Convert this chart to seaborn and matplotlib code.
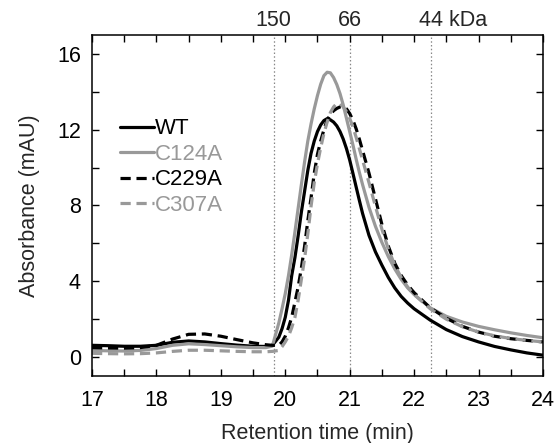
import numpy as np
import pandas as pd
import matplotlib
matplotlib.use("Agg")
import matplotlib.pyplot as plt
import matplotlib.transforms as mtransforms
from matplotlib.ticker import MultipleLocator
import seaborn as sns

# retention time (min)
time = [17.0, 17.25, 17.5, 17.75, 18.0, 18.25, 18.5, 18.75, 19.0, 19.25, 19.5, 19.7,
        19.8, 19.9, 19.95, 20.0, 20.05, 20.1, 20.15, 20.2, 20.25, 20.3, 20.35, 20.4,
        20.45, 20.5, 20.55, 20.6, 20.65, 20.7, 20.75, 20.8, 20.85, 20.9, 20.95, 21.0,
        21.05, 21.1, 21.15, 21.2, 21.3, 21.4, 21.5, 21.6, 21.7, 21.8, 21.9, 22.0,
        22.25, 22.5, 22.75, 23.0, 23.25, 23.5, 23.75, 24.0]

wt = [0.62, 0.6, 0.57, 0.57, 0.62, 0.78, 0.85, 0.8, 0.71, 0.63, 0.57, 0.56,
      0.62, 1.05, 1.5, 2.1, 3.0, 4.3, 5.25, 6.4, 7.65, 8.75, 9.85, 10.75,
      11.4, 11.9, 12.25, 12.48, 12.58, 12.52, 12.4, 12.2, 11.9, 11.5, 11.0, 10.4,
      9.7, 8.98, 8.27, 7.58, 6.42, 5.55, 4.85, 4.2, 3.65, 3.2, 2.85, 2.55,
      1.95, 1.45, 1.08, 0.8, 0.56, 0.38, 0.22, 0.1]

c124a = [0.35, 0.33, 0.32, 0.35, 0.45, 0.62, 0.7, 0.66, 0.6, 0.54, 0.5, 0.5,
         0.58, 1.8, 2.55, 3.35, 4.3, 5.4, 6.6, 7.85, 9.1, 10.3, 11.4, 12.3,
         13.1, 13.8, 14.4, 14.85, 15.03, 15.0, 14.75, 14.38, 13.9, 13.3, 12.6, 11.9,
         11.2, 10.45, 9.75, 9.1, 7.9, 6.9, 6.05, 5.3, 4.65, 4.1, 3.65, 3.3,
         2.6, 2.15, 1.85, 1.62, 1.44, 1.28, 1.14, 1.02]

c229a = [0.5, 0.48, 0.47, 0.5, 0.62, 0.95, 1.2, 1.22, 1.1, 0.92, 0.75, 0.65,
         0.62, 0.62, 0.8, 1.1, 1.55, 2.1, 2.9, 3.7, 4.7, 5.85, 7.2, 8.4,
         9.7, 10.7, 11.4, 12.0, 12.5, 12.8, 13.0, 13.12, 13.2, 13.2, 13.1, 12.85,
         12.5, 12.05, 11.5, 10.9, 9.7, 8.35, 7.0, 5.85, 4.95, 4.3, 3.8, 3.4,
         2.6, 2.05, 1.62, 1.32, 1.1, 0.97, 0.88, 0.8]

c307a = [0.2, 0.18, 0.17, 0.18, 0.22, 0.3, 0.36, 0.36, 0.33, 0.3, 0.28, 0.28,
         0.3, 0.35, 0.55, 0.8, 1.1, 1.55, 2.1, 3.0, 4.1, 5.2, 6.5, 7.95,
         9.2, 10.2, 11.05, 11.8, 12.4, 12.9, 13.2, 13.38, 13.38, 13.2, 12.95, 12.6,
         12.15, 11.6, 11.0, 10.4, 9.2, 7.95, 6.75, 5.7, 4.85, 4.2, 3.7, 3.3,
         2.55, 2.0, 1.6, 1.32, 1.12, 0.98, 0.88, 0.8]

# size standards (kDa) and their elution positions
marker_times = [19.82, 21.0, 22.27]
marker_labels = ["150", "66", "44 kDa"]

sns.set_style("ticks")
plt.rcParams["font.family"] = ["Liberation Sans", "DejaVu Sans"]

gray = "#999999"
series = [("WT", wt, "black", "-"),
          ("C124A", c124a, gray, "-"),
          ("C229A", c229a, "black", (0, (3.2, 1.8))),
          ("C307A", c307a, gray, (0, (3.2, 1.8)))]

fig = plt.figure(figsize=(5.56, 4.43), dpi=100)
ax = fig.add_axes([0.1655, 0.1512, 0.811, 0.77])

for xm in marker_times:
    ax.axvline(xm, color="#888888", lw=0.9, ls=(0, (1.2, 1.8)), zorder=0)

for name, vals, col, ls in series:
    sns.lineplot(x=time, y=vals, ax=ax, color=col, lw=2.3, label=name,
                 linestyle=ls, sort=False)

fs = 15.5
ax.set_xlim(17, 24)
ax.set_ylim(-1, 17)
ax.xaxis.set_major_locator(MultipleLocator(1))
ax.xaxis.set_minor_locator(MultipleLocator(0.5))
ax.yaxis.set_major_locator(MultipleLocator(4))
ax.yaxis.set_minor_locator(MultipleLocator(2))
ax.tick_params(which="both", direction="in", top=True, right=True,
               length=5, width=1, labelsize=fs, colors="black")
ax.tick_params(axis="x", pad=10)
ax.tick_params(axis="y", pad=8)
for sp in ax.spines.values():
    sp.set_linewidth(1.1)
    sp.set_color("black")

ax.set_xlabel("Retention time (min)", fontsize=fs, labelpad=9)
ax.set_ylabel("Absorbance (mAU)", fontsize=fs, labelpad=12)

trans = mtransforms.blended_transform_factory(ax.transData, ax.transAxes)
ax.text(marker_times[0], 1.042, marker_labels[0], transform=trans,
        ha="center", va="center", fontsize=fs)
ax.text(marker_times[1], 1.042, marker_labels[1], transform=trans,
        ha="center", va="center", fontsize=fs)
ax.text(22.07, 1.042, marker_labels[2], transform=trans,
        ha="left", va="center", fontsize=fs)

leg = ax.legend(loc="upper left", bbox_to_anchor=(0.063, 0.755), frameon=False,
                fontsize=16, handlelength=1.5, handletextpad=0.05,
                labelspacing=0.2, borderpad=0, borderaxespad=0)
for txt, (name, vals, col, ls) in zip(leg.get_texts(), series):
    txt.set_color(col)

fig.savefig("out.png", dpi=100)
